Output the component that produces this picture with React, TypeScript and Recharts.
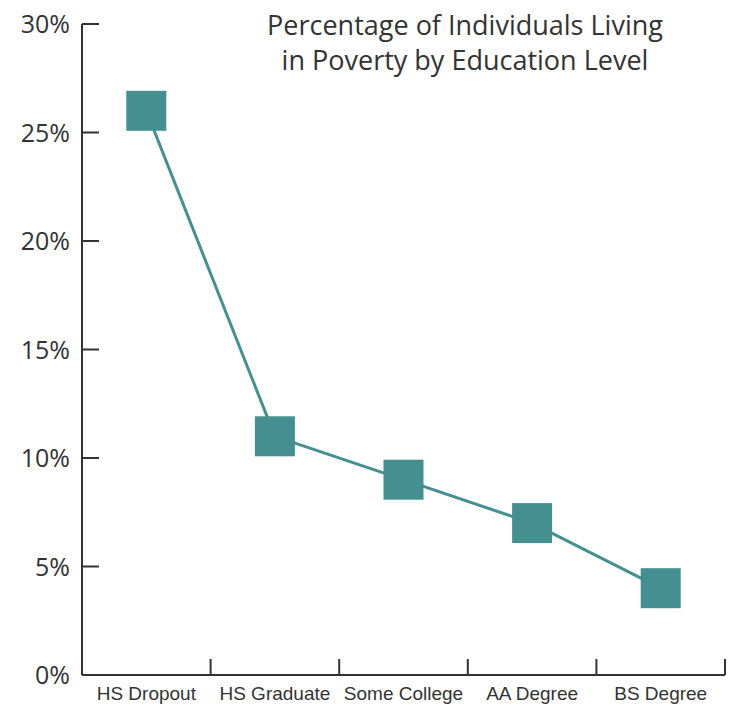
import React from 'react';
import { LineChart, Line, XAxis, YAxis } from 'recharts';

const categories = ['HS Dropout', 'HS Graduate', 'Some College', 'AA Degree', 'BS Degree'];
const povertyRate = [26, 11, 9, 7, 4];
const yTicks = [0, 5, 10, 15, 20, 25, 30];

const data = categories.map((name, i) => ({ name, value: povertyRate[i] }));

const TEAL = '#448f8f';
const INK = '#333333';
const BAND = 643 / categories.length;

const YTick = (props: any) => {
    const { x, y, payload } = props;
    return (
        <g>
            <line x1={x} y1={y} x2={x + 17} y2={y} stroke={INK} strokeWidth={2} />
            <text x={x - 12} y={y} dy={9} textAnchor="end" fill={INK}
                style={{ fontFamily: '"Open Sans", sans-serif', fontSize: 25 }}>
                {`${payload.value}%`}
            </text>
        </g>
    );
};

const XTick = (props: any) => {
    const { x, y, payload } = props;
    const bx = x + BAND / 2;
    return (
        <g>
            <line x1={bx} y1={y} x2={bx} y2={y - 16} stroke={INK} strokeWidth={2} />
            <text x={x} y={y + 25} textAnchor="middle" fill={INK}
                style={{ fontFamily: '"Liberation Sans", Arial, sans-serif', fontSize: 19 }}>
                {payload.value}
            </text>
        </g>
    );
};

const SquareDot = (props: any) => {
    const { cx, cy, index } = props;
    return <rect key={index} x={cx - 20} y={cy - 20} width={40} height={40} fill={TEAL} />;
};

export default function App() {
    return (
        <div style={{ position: 'absolute', left: 0, top: 0, width: 743, height: 705, background: '#fff' }}>
            <LineChart width={743} height={705} data={data}
                margin={{ top: 24, right: 18, bottom: 0, left: 0 }}>
                <XAxis dataKey="name" height={30} tickSize={0} tickMargin={0} interval={0}
                    padding={{ left: BAND / 2, right: BAND / 2 }}
                    axisLine={{ stroke: INK, strokeWidth: 2 }} tickLine={false} tick={<XTick />} />
                <YAxis width={82} domain={[0, 30]} ticks={yTicks} tickSize={0} tickMargin={0}
                    axisLine={{ stroke: INK, strokeWidth: 2 }} tickLine={false} tick={<YTick />} />
                <Line dataKey="value" stroke={TEAL} strokeWidth={3} isAnimationActive={false}
                    dot={<SquareDot />} activeDot={false} />
            </LineChart>
            <div style={{
                position: 'absolute', left: 215, top: 7, width: 500, textAlign: 'center',
                fontFamily: '"Open Sans", sans-serif', fontSize: 27, lineHeight: '35px', color: INK,
            }}>
                Percentage of Individuals Living<br />in Poverty by Education Level
            </div>
        </div>
    );
}
